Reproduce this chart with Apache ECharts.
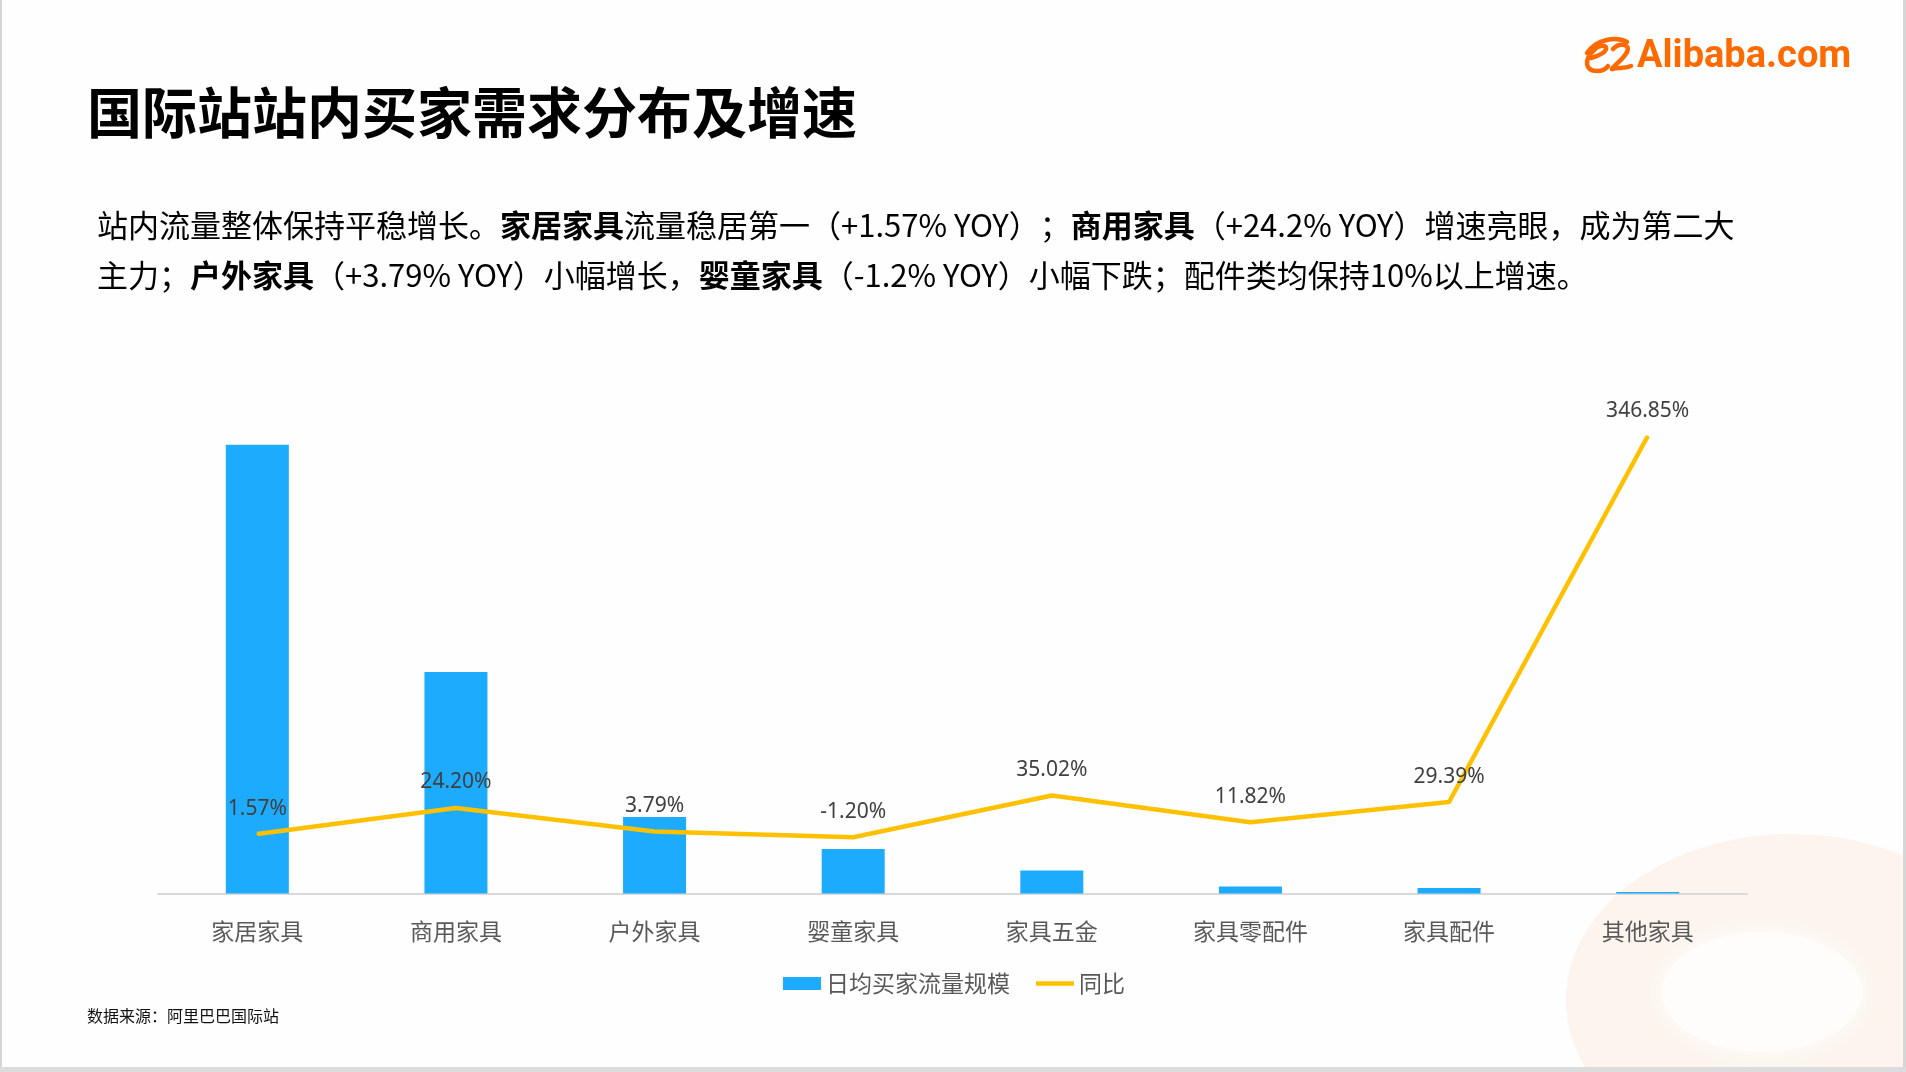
<!DOCTYPE html>
<html>
<head>
<meta charset="utf-8">
<title>国际站站内买家需求分布及增速</title>
<script src="https://cdn.jsdelivr.net/npm/echarts@6/dist/echarts.min.js"></script>
<style>
  html, body { margin: 0; padding: 0; background: #fefefe; }
  #chart-container { width: 1906px; height: 1072px; }
</style>
</head>
<body>
<div id="chart-container"></div>
<script>
// 类目
var categories = ['家居家具', '商用家具', '户外家具', '婴童家具', '家具五金', '家具零配件', '家具配件', '其他家具'];
// 日均买家流量规模（相对值，按柱高估读）
var trafficValues = [432.7, 213.7, 73.8, 42.9, 22.2, 6.8, 5.3, 1.45];
// 同比增速 %
var yoyValues = [1.57, 24.20, 3.79, -1.20, 35.02, 11.82, 29.39, 346.85];

var CJK = "'Noto Sans CJK SC', 'Noto Sans', sans-serif";
var NUM = "'Noto Sans', 'Noto Sans CJK SC', sans-serif";

var container = document.getElementById('chart-container');
var myChart = echarts.init(container);

// 段落文字（加粗部分用 rich）
var richStyles = {
    n: { fontSize: 31, fontFamily: CJK, color: '#1f1f1f', lineHeight: 40 },
    b: { fontSize: 31, fontFamily: CJK, color: '#000', fontWeight: 'bold', lineHeight: 40 }
};
var line1 = '{n|站内流量整体保持平稳增长。}{b|家居家具}{n|流量稳居第一（+1.57% YOY）；}{b|商用家具}{n|（+24.2% YOY）增速亮眼，成为第二大}';
var line2 = '{n|主力；}{b|户外家具}{n|（+3.79% YOY）小幅增长，}{b|婴童家具}{n|（-1.2% YOY）小幅下跌；配件类均保持10%以上增速。}';

function textEl(x, y, text, extra) {
    var style = {
        x: x, y: y, text: text,
        align: 'left', textAlign: 'left',
        verticalAlign: 'middle', textVerticalAlign: 'middle'
    };
    for (var k in extra) style[k] = extra[k];
    return { type: 'text', z: 10, style: style };
}

// logo 图形：几段贝塞尔曲线拼出来
var logoCurves = [
    [1587, 53, 1597, 39, 1616, 36, 1627, 42],
    [1591, 58, 1598, 56, 1605, 53, 1606, 49],
    [1606, 49, 1607, 44, 1598, 45, 1593, 51],
    [1593, 51, 1584, 60, 1585, 71, 1597, 71],
    [1597, 71, 1602, 71, 1606, 69, 1608, 66],
    [1613, 49, 1619, 42, 1631, 44, 1627, 52],
    [1627, 52, 1623, 60, 1614, 65, 1612, 69],
    [1612, 69, 1618, 67, 1624, 69, 1631, 66]
];
var logoEls = logoCurves.map(function (c) {
    return {
        type: 'bezierCurve', z: 10,
        shape: { x1: c[0], y1: c[1], cpx1: c[2], cpy1: c[3], cpx2: c[4], cpy2: c[5], x2: c[6], y2: c[7] },
        style: { stroke: '#ff6a00', lineWidth: 4.5, fill: null, lineCap: 'round' }
    };
});

var option = {
    backgroundColor: '#fefefe',
    animation: false,
    graphic: [
        // 右下角的淡色圆环装饰
        {
            type: 'ellipse', z: 0, silent: true,
            shape: { cx: 1792, cy: 1000, rx: 226, ry: 166 },
            style: { fill: 'rgba(250,232,218,0.45)' }
        },
        {
            type: 'ellipse', z: 0, silent: true,
            shape: { cx: 1762, cy: 992, rx: 100, ry: 60 },
            style: { fill: '#fefdfc', shadowBlur: 30, shadowColor: 'rgba(255,255,255,0.9)' }
        },
        // 幻灯片边框
        { type: 'rect', z: 1, shape: { x: 0, y: 0, width: 2, height: 1072 }, style: { fill: '#d6d6d6' } },
        { type: 'rect', z: 1, shape: { x: 1903, y: 0, width: 3, height: 1072 }, style: { fill: '#d6d6d6' } },
        { type: 'rect', z: 1, shape: { x: 0, y: 1067, width: 1906, height: 5 }, style: { fill: '#dcdcdc' } },
        // 标题
        textEl(87, 112, '国际站站内买家需求分布及增速', { font: 'bold 55px ' + CJK, fill: '#000' }),
        // Logo 文字
        textEl(1637, 57, 'Alibaba.com', { font: 'bold 38px Roboto, sans-serif', fill: '#ff6a00' }),
        // 段落
        textEl(97, 225, line1, { rich: richStyles }),
        textEl(97, 275, line2, { rich: richStyles }),
        // 数据来源
        textEl(87, 1016, '数据来源：阿里巴巴国际站', { font: '16px ' + CJK, fill: '#111' })
    ].concat(logoEls),
    legend: {
        left: 778,
        top: 967,
        itemWidth: 38,
        itemHeight: 13,
        itemGap: 26,
        textStyle: { fontSize: 23, color: '#595959', fontFamily: CJK },
        itemStyle: { borderWidth: 0 },
        data: [
            { name: '日均买家流量规模', icon: 'rect' },
            { name: '同比', icon: 'path://M0 0H40V4.5H0Z' }
        ]
    },
    grid: {
        left: 158,
        right: 159,
        top: 375,
        bottom: 178.5,
        containLabel: false
    },
    xAxis: {
        type: 'category',
        data: categories,
        axisLine: { lineStyle: { color: '#d9d9d9', width: 2 } },
        axisTick: { show: false },
        axisLabel: { fontSize: 23, color: '#595959', fontFamily: CJK, margin: 26 }
    },
    yAxis: [
        { type: 'value', min: 0, max: 500, show: false, splitLine: { show: false } },
        { type: 'value', min: -50, max: 400, show: false, splitLine: { show: false } }
    ],
    series: [
        {
            name: '日均买家流量规模',
            type: 'bar',
            yAxisIndex: 0,
            barWidth: 63,
            data: trafficValues,
            itemStyle: { color: '#1dabfd' }
        },
        {
            name: '同比',
            type: 'line',
            yAxisIndex: 1,
            data: yoyValues,
            symbol: 'circle',
            symbolSize: 2,
            z: 3,
            lineStyle: { width: 4.5, color: '#ffc000', join: 'round' },
            itemStyle: { color: '#ffc000' },
            label: {
                show: true,
                position: 'top',
                distance: 14,
                fontSize: 21,
                color: '#404040',
                fontFamily: NUM,
                formatter: function (p) {
                    return p.value.toFixed(2) + '%';
                }
            }
        }
    ]
};

myChart.setOption(option);
</script>
</body>
</html>
